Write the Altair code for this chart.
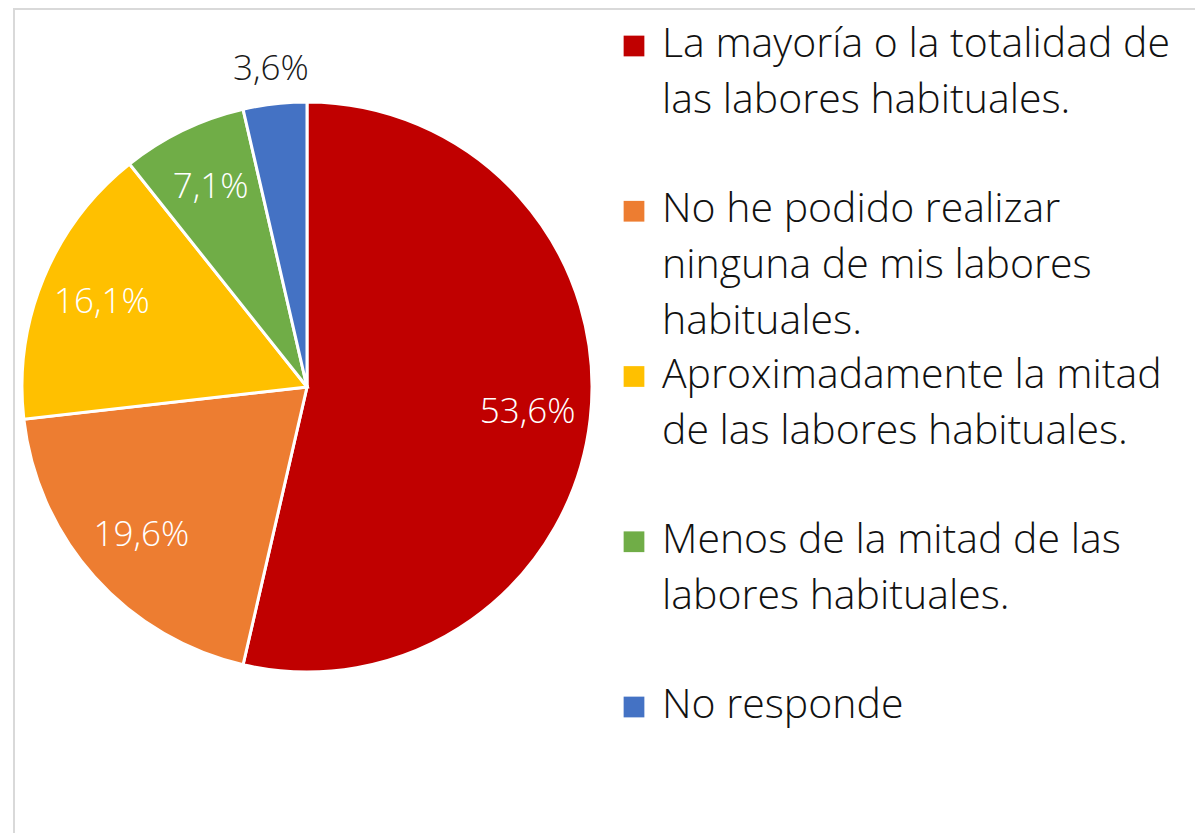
import altair as alt
import pandas as pd

categories = [
    "La mayoría o la totalidad de las labores habituales.",
    "No he podido realizar ninguna de mis labores habituales.",
    "Aproximadamente la mitad de las labores habituales.",
    "Menos de la mitad de las labores habituales.",
    "No responde",
]
legend_labels = [
    "La mayoría o la totalidad de\nlas labores habituales.",
    "No he podido realizar\nninguna de mis labores\nhabituales.",
    "Aproximadamente la mitad\nde las labores habituales.",
    "Menos de la mitad de las\nlabores habituales.",
    "No responde",
]
values = [53.6, 19.6, 16.1, 7.1, 3.6]
colors = ["#C00000", "#ED7D31", "#FFC000", "#70AD47", "#4472C4"]
value_labels = [f"{v:.1f}".replace(".", ",") + "%" for v in values]

df = pd.DataFrame({
    "idx": list(range(len(categories))),
    "cat": categories,
    "legend": legend_labels,
    "value": values,
    "label": value_labels,
})

W, H = 1182, 825
CX, CY, R = 294, 379, 285
FONT = "Open Sans"

color_scale = alt.Scale(domain=categories, range=colors)

base = alt.Chart(df).transform_window(
    cum="sum(value)", sort=[alt.SortField("idx")]
).transform_joinaggregate(
    total="sum(value)"
).transform_calculate(
    t1="datum.cum / datum.total * 2 * PI",
    t0="(datum.cum - datum.value) / datum.total * 2 * PI",
).transform_calculate(
    mid="(datum.t0 + datum.t1) / 2"
)

arcs = base.mark_arc(outerRadius=R, stroke="white", strokeWidth=3).encode(
    theta=alt.Theta("t0:Q", scale=None),
    theta2=alt.Theta2("t1:Q"),
    color=alt.Color("cat:N", scale=color_scale, legend=None),
    x=alt.value(CX),
    y=alt.value(CY),
)

inner_labels = base.transform_filter("datum.value >= 5").mark_text(
    radius=222, font=FONT, fontSize=35, fontWeight=300, color="white",
    align="center", baseline="middle"
).encode(
    theta=alt.Theta("mid:Q", scale=None),
    text="label:N",
    x=alt.value(CX),
    y=alt.value(CY),
)

outer_labels = base.transform_filter("datum.value < 5").mark_text(
    radius=320, font=FONT, fontSize=35, fontWeight=300, color="#1a1a1a",
    align="center", baseline="middle"
).encode(
    theta=alt.Theta("mid:Q", scale=None),
    text="label:N",
    x=alt.value(CX),
    y=alt.value(CY),
)

ypos = alt.Y("cat:N", scale=alt.Scale(type="point", domain=categories,
                                      range=[49, 710], padding=0), axis=None)

leg_sq = alt.Chart(df).mark_square(size=430, yOffset=-11, opacity=1).encode(
    x=alt.value(621),
    y=ypos,
    color=alt.Color("cat:N", scale=color_scale, legend=None),
)

leg_txt = alt.Chart(df).mark_text(
    font=FONT, fontSize=41, fontWeight=300, color="#111111", align="left",
    baseline="alphabetic", lineBreak="\n", lineHeight=56,
).encode(
    x=alt.value(649),
    y=ypos,
    text="legend:N",
)

border_df = pd.DataFrame({"k": [0]})
top_border = alt.Chart(border_df).mark_rule(color="#D9D9D9", strokeWidth=2).encode(
    x=alt.value(0), x2=alt.value(W), y=alt.value(1)
)
left_border = alt.Chart(border_df).mark_rule(color="#D9D9D9", strokeWidth=2).encode(
    x=alt.value(1), y=alt.value(0), y2=alt.value(H)
)

chart = alt.layer(
    top_border, left_border, arcs, inner_labels, outer_labels, leg_sq, leg_txt
).properties(
    width=W, height=H,
    autosize=alt.AutoSizeParams(type="none"),
    padding={"left": 5, "top": 0, "right": 0, "bottom": 0},
).configure_view(stroke=None).configure(background="white")

chart.save("out.html", embed_options={"renderer": "svg", "actions": False})
